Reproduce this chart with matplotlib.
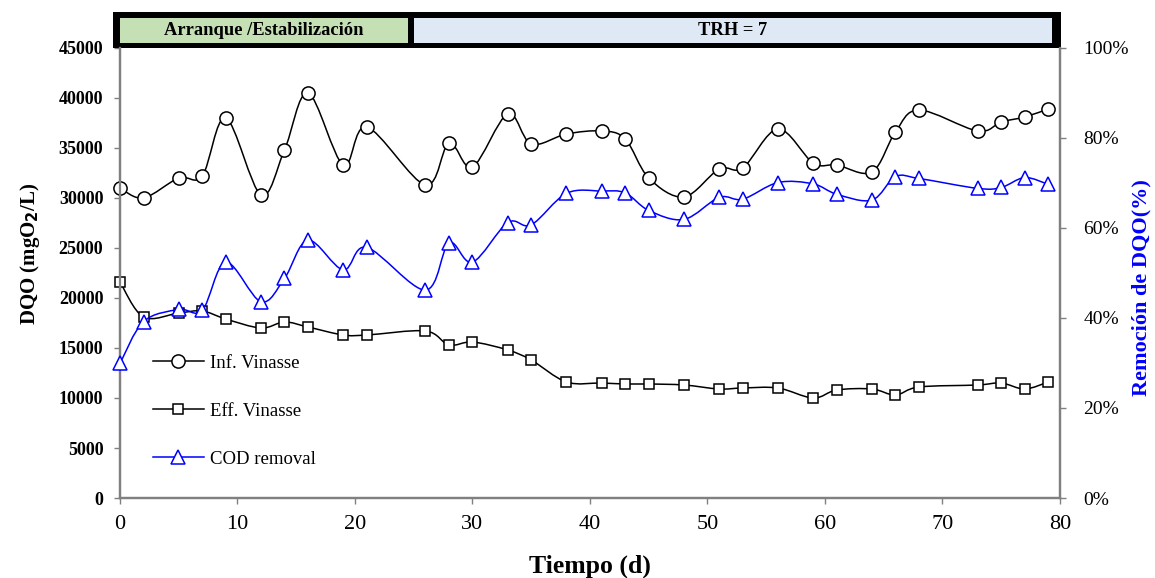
import numpy as np
import matplotlib
matplotlib.use("Agg")
import matplotlib.pyplot as plt
from matplotlib.path import Path
from matplotlib.patches import PathPatch, Rectangle
from matplotlib.lines import Line2D
from matplotlib.ticker import PercentFormatter

plt.rcParams['font.family'] = ['Liberation Serif', 'DejaVu Serif']

# days of sampling
dias = [0, 2, 5, 7, 9, 12, 14, 16, 19, 21, 26, 28, 30, 33, 35, 38, 41, 43,
        45, 48, 51, 53, 56, 59, 61, 64, 66, 68, 73, 75, 77, 79]
# influent COD (mgO2/L)
inf_vinasse = [31000, 30000, 32000, 32200, 38000, 30300, 34800, 40500, 33300,
               37100, 31300, 35500, 33100, 38400, 35400, 36400, 36700, 35900,
               32000, 30100, 32900, 33000, 36900, 33500, 33300, 32600, 36600,
               38800, 36700, 37600, 38100, 38900]
# effluent COD (mgO2/L)
eff_vinasse = [21600, 18100, 18500, 18700, 17900, 17000, 17600, 17100, 16300,
               16300, 16700, 15300, 15600, 14800, 13800, 11600, 11500, 11400,
               11400, 11300, 10900, 11000, 11000, 10000, 10800, 10900, 10300,
               11100, 11300, 11500, 10900, 11600]
# COD removal (fraction)
remocion = [0.299, 0.392, 0.419, 0.417, 0.524, 0.436, 0.488, 0.573, 0.507,
            0.557, 0.462, 0.567, 0.524, 0.612, 0.607, 0.677, 0.682, 0.678,
            0.639, 0.619, 0.668, 0.664, 0.701, 0.698, 0.675, 0.662, 0.714,
            0.710, 0.688, 0.690, 0.712, 0.697]

etapas = ['Arranque /Estabilización', 'TRH = 7']


def smooth_path(x, y):
    # Excel-like smoothed line: Catmull-Rom segments as cubic Bezier
    x = np.asarray(x, float); y = np.asarray(y, float)
    pts = np.column_stack([x, y])
    n = len(pts)
    verts = [pts[0]]
    codes = [Path.MOVETO]
    for i in range(n - 1):
        p0 = pts[i - 1] if i > 0 else pts[i]
        p1 = pts[i]
        p2 = pts[i + 1]
        p3 = pts[i + 2] if i + 2 < n else pts[i + 1]
        c1 = p1 + (p2 - p0) / 6.0
        c2 = p2 - (p3 - p1) / 6.0
        verts += [c1, c2, p2]
        codes += [Path.CURVE4] * 3
    return Path(verts, codes)


fig = plt.figure(figsize=(11.55, 5.78), dpi=100)
ax = fig.add_axes([0.1039, 0.1384, 0.8138, 0.7786])
ax2 = ax.twinx()

gris = '#808080'

ax.add_patch(PathPatch(smooth_path(dias, inf_vinasse), fill=False,
                       edgecolor='black', lw=1.1, zorder=2))
ax.plot(dias, inf_vinasse, ls='none', marker='o', ms=9.5, mfc='white',
        mec='black', mew=1.1, zorder=3, clip_on=False)
ax.add_patch(PathPatch(smooth_path(dias, eff_vinasse), fill=False,
                       edgecolor='black', lw=1.1, zorder=2))
ax.plot(dias, eff_vinasse, ls='none', marker='s', ms=7.5, mfc='white',
        mec='black', mew=1.1, zorder=3, clip_on=False)
ax2.add_patch(PathPatch(smooth_path(dias, remocion), fill=False,
                        edgecolor='blue', lw=1.1, zorder=2))
ax2.plot(dias, remocion, ls='none', marker='^', ms=9.5, mfc='white',
         mec='blue', mew=1.1, zorder=3, clip_on=False)

ax.set_xlim(0, 80)
ax.set_ylim(0, 45000)
ax2.set_ylim(0, 1)
ax.set_xticks(np.arange(0, 81, 10))
ax.set_yticks(np.arange(0, 45001, 5000))
ax2.set_yticks(np.arange(0, 1.01, 0.2))
ax2.yaxis.set_major_formatter(PercentFormatter(1.0, decimals=0))

for a in (ax, ax2):
    a.spines['top'].set_visible(False)
    for s in ['left', 'right', 'bottom']:
        a.spines[s].set_color(gris)
        a.spines[s].set_linewidth(1.6)
    a.tick_params(direction='out', color=gris, length=4, width=1)

ax.tick_params(axis='y', labelsize=13, pad=8)
ax.tick_params(axis='x', labelsize=16, pad=8)
for lab in ax.get_yticklabels():
    lab.set_fontweight('bold')
ax2.tick_params(axis='y', labelsize=14, pad=13)

ax.set_xlabel('Tiempo (d)', fontsize=18.5, fontweight='bold', labelpad=15)
ax.set_ylabel('DQO (mgO$_\\mathbf{2}$/L)', fontsize=15, fontweight='bold')
ax.yaxis.set_label_coords(-0.083, 0.542)
ax2.set_ylabel('Remoción de DQO(%)', fontsize=16, fontweight='bold',
               color='blue')
ax2.yaxis.set_label_coords(1.076, 0.467)

# banner with the operating stages
ax.add_patch(Rectangle((-0.0074, 1.0), 1.0084, 0.08, transform=ax.transAxes,
                       facecolor='black', edgecolor='none', clip_on=False,
                       zorder=5))
ax.add_patch(Rectangle((0.0, 1.011), 0.306, 0.0557, transform=ax.transAxes,
                       facecolor='#c5e0b4', edgecolor='none', clip_on=False,
                       zorder=6))
ax.add_patch(Rectangle((0.3128, 1.011), 0.6787, 0.0557, transform=ax.transAxes,
                       facecolor='#dee9f5', edgecolor='none', clip_on=False,
                       zorder=6))
ax.text(0.153, 1.039, etapas[0], transform=ax.transAxes, ha='center',
        va='center', fontsize=13.3, fontweight='bold', zorder=7)
ax.text(0.652, 1.039, etapas[1], transform=ax.transAxes, ha='center',
        va='center', fontsize=13.3, fontweight='bold', zorder=7)

handles = [
    Line2D([], [], color='black', lw=1.1, marker='o', ms=9.5, mfc='white',
           mec='black', mew=1.1),
    Line2D([], [], color='black', lw=1.1, marker='s', ms=7.5, mfc='white',
           mec='black', mew=1.1),
    Line2D([], [], color='blue', lw=1.1, marker='^', ms=9.5, mfc='white',
           mec='blue', mew=1.1),
]
ax2.legend(handles, ['Inf. Vinasse', 'Eff. Vinasse', 'COD removal'],
           loc='upper left', bbox_to_anchor=(0.027, 0.335), frameon=False,
           fontsize=13.5, handlelength=2.72, handletextpad=0.3,
           labelspacing=1.65, borderaxespad=0)

fig.savefig('out.png', dpi=100)
